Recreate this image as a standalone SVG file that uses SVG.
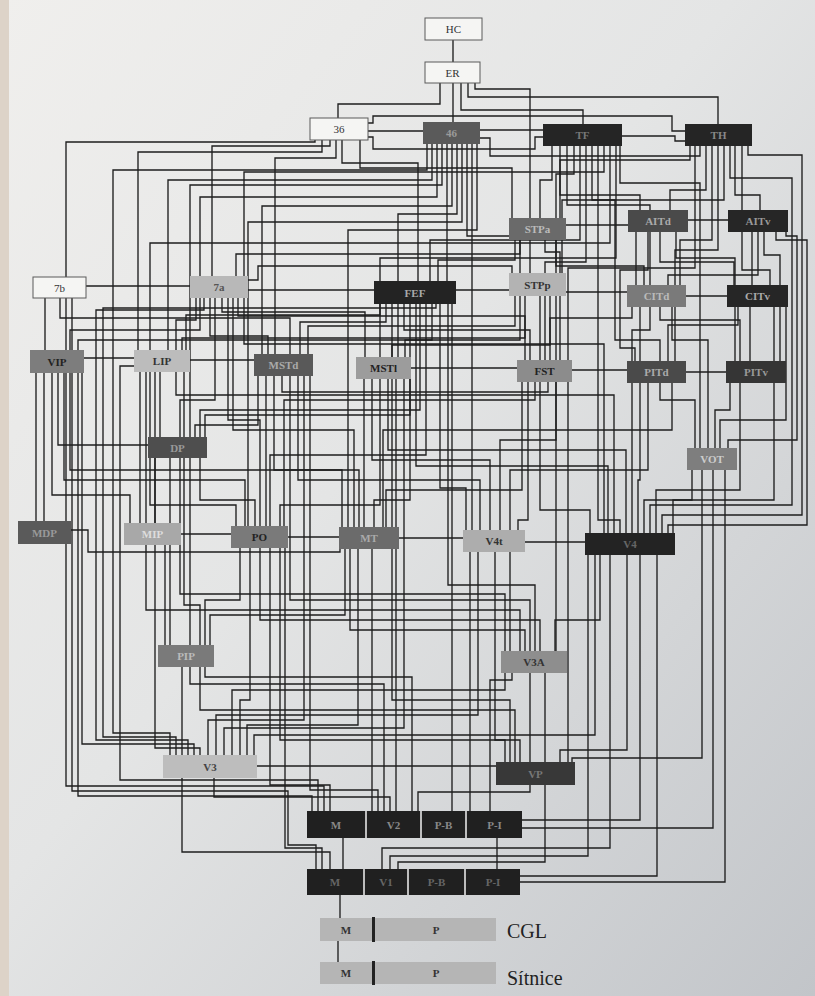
<svg xmlns="http://www.w3.org/2000/svg" width="815" height="996" viewBox="0 0 815 996">
<defs>
<linearGradient id="bg" x1="0" y1="0" x2="1" y2="1">
<stop offset="0" stop-color="#f0efed"/>
<stop offset="0.45" stop-color="#e4e5e5"/>
<stop offset="1" stop-color="#c2c5c9"/>
</linearGradient>
</defs>
<style>
.c path{fill:none;stroke:#1e1e1e;stroke-width:1.35}
.n text{font-family:"Liberation Serif","Times New Roman",serif;font-size:11px;font-weight:bold;text-anchor:middle}
.w rect{fill:#f5f5f3;stroke:#5a5a5a;stroke-width:1}
.w text{fill:#333;font-weight:normal}
.sep{stroke:#bdbdbd;stroke-width:2}
.n text.lbl{font-family:"Liberation Serif","Times New Roman",serif;font-size:20px;font-weight:normal;fill:#222;text-anchor:start}
</style>
<rect x="0" y="0" width="815" height="996" fill="url(#bg)"/>
<rect x="0" y="0" width="9" height="996" fill="#ddd3c8"/>

<g id="connectors" class="c">
<path d="M453,40V62"/>
<path d="M440,83V104H338V118"/>
<path d="M453,83V122"/>
<path d="M461,83V110H583V124"/>
<path d="M468,83V97H718V124"/>
<path d="M475,83V89H530V218"/>
<path d="M368,123H373V116H672V131H685"/>
<path d="M368,131H423"/>
<path d="M368,137H373V149H535V137H543"/>
<path d="M480,130H543"/>
<path d="M480,138H490V156H700V146"/>
<path d="M622,136H675V141H685"/>
<path d="M315,140V142H66V277"/>
<path d="M322,140V152H138V350"/>
<path d="M330,140V146H212V276"/>
<path d="M336,140V158H275V354"/>
<path d="M342,140V163H418V281"/>
<path d="M360,140V168H512V218"/>
<path d="M427,144V170H113V733H170V755"/>
<path d="M432,144V180H168V350"/>
<path d="M437,144V197H200V276"/>
<path d="M442,144V185H190V437"/>
<path d="M447,144V281"/>
<path d="M452,144V206H262V354"/>
<path d="M457,144V214H398V357"/>
<path d="M462,144V222H248V526"/>
<path d="M467,144V236H520V273"/>
<path d="M472,144V530"/>
<path d="M477,144V230H348V527"/>
<path d="M552,146V180H540V218"/>
<path d="M560,146V195H640V210"/>
<path d="M567,146V205H650V285"/>
<path d="M574,146V174H556V273"/>
<path d="M580,146V240H430V281"/>
<path d="M586,146V262H545V360"/>
<path d="M592,146V200H615V340H660V361"/>
<path d="M598,146V520H620V533"/>
<path d="M604,146V172H244V276"/>
<path d="M610,146V243H150V350"/>
<path d="M616,146V258H380V357"/>
<path d="M620,146V183H700V448"/>
<path d="M690,146V160H560V218"/>
<path d="M695,146V268H568V360"/>
<path d="M706,146V190H670V210"/>
<path d="M712,146V240H680V285"/>
<path d="M718,146V250H675V361"/>
<path d="M724,146V200H562V273"/>
<path d="M730,146V178H792V505H650V533"/>
<path d="M735,146V195H760V210"/>
<path d="M742,146V270H770V285"/>
<path d="M748,146V155H802V515H662V533"/>
<path d="M688,220H728"/>
<path d="M636,232V285"/>
<path d="M648,232V270H620V348H635V361"/>
<path d="M660,232V262H734V285"/>
<path d="M676,232V258H735V361"/>
<path d="M752,232V285"/>
<path d="M758,232V275H668V285"/>
<path d="M764,232V255H780V361"/>
<path d="M776,232V240H807V525H668V533"/>
<path d="M786,232V236H797V440H728V448"/>
<path d="M686,296H727"/>
<path d="M640,307V361"/>
<path d="M660,307V320H740V361"/>
<path d="M650,307V330H632V533"/>
<path d="M632,307V318H550V360"/>
<path d="M672,307V340H708V448"/>
<path d="M627,292H566"/>
<path d="M750,307V361"/>
<path d="M738,307V325H668V361"/>
<path d="M774,307V500H644V533"/>
<path d="M786,307V420H720V448"/>
<path d="M686,372H726"/>
<path d="M640,383V480H638V533"/>
<path d="M648,383V470H510V530"/>
<path d="M660,383V400H695V448"/>
<path d="M627,370H572"/>
<path d="M672,383V430H383V527"/>
<path d="M740,383V490H656V533"/>
<path d="M730,383V410H715V448"/>
<path d="M692,470V500H673V533"/>
<path d="M713,470V828H522"/>
<path d="M702,470V758H572V762"/>
<path d="M725,470V882H520"/>
<path d="M657,555V876H520"/>
<path d="M640,555V820H522"/>
<path d="M627,555V750H560V762"/>
<path d="M610,555V848H382V869"/>
<path d="M588,555V856H390V869"/>
<path d="M600,555V620H555V651"/>
<path d="M595,555V735H254V755"/>
<path d="M585,542H525"/>
<path d="M530,240V273"/>
<path d="M515,240V260H438V281"/>
<path d="M520,240V254H236V276"/>
<path d="M545,240V252H560V360"/>
<path d="M566,225H628"/>
<path d="M556,240V266H644V285"/>
<path d="M86,286H190"/>
<path d="M60,298V318H290V354"/>
<path d="M45,298V350"/>
<path d="M66,298V786H324V811"/>
<path d="M72,298V791H288V845H316V869"/>
<path d="M196,298V320H176V350"/>
<path d="M200,298V330H70V350"/>
<path d="M204,298V310H96V740H188V755"/>
<path d="M210,298V336H268V354"/>
<path d="M215,298V400H180V437"/>
<path d="M222,298V312H365V357"/>
<path d="M228,298V420H260V526"/>
<path d="M233,298V430H354V527"/>
<path d="M238,298V316H525V360"/>
<path d="M244,298V344H604V533"/>
<path d="M248,290H374"/>
<path d="M248,280H258V266H512V273"/>
<path d="M380,304V315H186V350"/>
<path d="M386,304V322H300V354"/>
<path d="M392,304V357"/>
<path d="M404,304V330H530V360"/>
<path d="M410,304V500H374V527"/>
<path d="M416,304V466H608V533"/>
<path d="M420,304V410H200V437"/>
<path d="M426,304V455H270V526"/>
<path d="M432,304V340H78V350"/>
<path d="M436,304V308H103V737H176V755"/>
<path d="M440,304V488H466V530"/>
<path d="M448,304V585H535V651"/>
<path d="M456,290H509"/>
<path d="M452,304V811"/>
<path d="M540,296V360"/>
<path d="M515,296V326H308V354"/>
<path d="M520,296V340H405V357"/>
<path d="M525,296V338H182V350"/>
<path d="M550,296V345H392V527"/>
<path d="M556,296V440H500V530"/>
<path d="M36,373V521"/>
<path d="M44,373V521"/>
<path d="M84,358H134"/>
<path d="M58,373V445H148"/>
<path d="M52,373V495H130V523"/>
<path d="M64,373V480H245V526"/>
<path d="M70,373V470H342V527"/>
<path d="M78,373V796H312V811"/>
<path d="M82,373V744H194V755"/>
<path d="M134,366H120V780H318V811"/>
<path d="M160,372V437"/>
<path d="M140,372V523"/>
<path d="M150,372V505H236V526"/>
<path d="M176,372V395H614V533"/>
<path d="M190,360H254"/>
<path d="M184,372V605H200V645"/>
<path d="M146,372V610H520V651"/>
<path d="M155,372V748H200V755"/>
<path d="M258,376V425H195V437"/>
<path d="M266,376V526"/>
<path d="M274,376V470H359V527"/>
<path d="M282,376V392H548V382"/>
<path d="M290,376V600H530V651"/>
<path d="M298,376V480H480V530"/>
<path d="M304,376V720H208V755"/>
<path d="M310,376V790H378V811"/>
<path d="M364,379V527"/>
<path d="M372,379V460H490V530"/>
<path d="M380,379V505H280V526"/>
<path d="M388,379V450H626V533"/>
<path d="M396,379V811"/>
<path d="M404,379V728H224V755"/>
<path d="M410,379V415H205V437"/>
<path d="M411,368H517"/>
<path d="M522,382V490H386V527"/>
<path d="M528,382V520H518V530"/>
<path d="M540,382V510H590V533"/>
<path d="M556,382V651"/>
<path d="M568,382V762"/>
<path d="M535,382V400H284V526"/>
<path d="M200,458V500H255V526"/>
<path d="M155,458V523"/>
<path d="M170,458V645"/>
<path d="M180,458V594H505V651"/>
<path d="M190,458V684H384V811"/>
<path d="M71,530H88V552H340V549"/>
<path d="M181,534H231"/>
<path d="M165,545V645"/>
<path d="M288,537H339"/>
<path d="M240,548V600H205V645"/>
<path d="M250,548V700H240V755"/>
<path d="M260,548V620H540V651"/>
<path d="M270,548V785H330V811"/>
<path d="M280,548V740H505V762"/>
<path d="M285,548V848H322V869"/>
<path d="M399,538H463"/>
<path d="M350,549V630H525V651"/>
<path d="M358,549V725H247V755"/>
<path d="M372,549V811"/>
<path d="M392,549V700H510V762"/>
<path d="M345,549V615H210V645"/>
<path d="M510,552V651"/>
<path d="M470,552V811"/>
<path d="M495,552V740H520V762"/>
<path d="M478,552V715H216V755"/>
<path d="M182,667V755"/>
<path d="M205,667V677H412V811"/>
<path d="M200,667V710H515V762"/>
<path d="M505,673V690H232V755"/>
<path d="M530,673V762"/>
<path d="M512,673V680H490V811"/>
<path d="M545,673V862H398V869"/>
<path d="M257,766H496"/>
<path d="M214,778V797H390V811"/>
<path d="M182,778V852H330V869"/>
<path d="M530,785V792H418V811"/>
<path d="M343,838V869"/>
<path d="M497,838V869"/>
<path d="M340,895V918"/>
<path d="M338,941V962"/>
</g>

<g id="n-HC" class="n w"><rect x="425" y="18" width="57" height="22"/><text x="453.5" y="33">HC</text></g>
<g id="n-ER" class="n w"><rect x="425" y="62" width="55" height="21"/><text x="452.5" y="76.5">ER</text></g>
<g id="n-36" class="n w"><rect x="310" y="118" width="58" height="22"/><text x="339" y="133">36</text></g>
<g id="n-7b" class="n w"><rect x="33" y="277" width="53" height="21"/><text x="59.5" y="291.5">7b</text></g>
<g id="n-46" class="n"><rect x="423" y="122" width="57" height="22" fill="#5a5a5a"/><text x="451.5" y="137" fill="#9a9a9a">46</text></g>
<g id="n-TF" class="n"><rect x="543" y="124" width="79" height="22" fill="#252525"/><text x="582.5" y="139" fill="#777">TF</text></g>
<g id="n-TH" class="n"><rect x="685" y="124" width="67" height="22" fill="#252525"/><text x="718.5" y="139" fill="#888">TH</text></g>
<g id="n-STPa" class="n"><rect x="509" y="218" width="57" height="22" fill="#6a6a6a"/><text x="537.5" y="233" fill="#bbb">STPa</text></g>
<g id="n-AITd" class="n"><rect x="628" y="210" width="60" height="22" fill="#4a4a4a"/><text x="658" y="225" fill="#aaa">AITd</text></g>
<g id="n-AITv" class="n"><rect x="728" y="210" width="60" height="22" fill="#262626"/><text x="758" y="225" fill="#999">AITv</text></g>
<g id="n-7a" class="n"><rect x="190" y="276" width="58" height="22" fill="#b8b8b8"/><text x="219" y="291" fill="#555">7a</text></g>
<g id="n-FEF" class="n"><rect x="374" y="281" width="82" height="23" fill="#232323"/><text x="415" y="296.5" fill="#aaa">FEF</text></g>
<g id="n-STPp" class="n"><rect x="509" y="273" width="57" height="23" fill="#b3b3b3"/><text x="537.5" y="288.5" fill="#333">STPp</text></g>
<g id="n-CITd" class="n"><rect x="627" y="285" width="59" height="22" fill="#7a7a7a"/><text x="656.5" y="300" fill="#bbb">CITd</text></g>
<g id="n-CITv" class="n"><rect x="727" y="285" width="61" height="22" fill="#262626"/><text x="757.5" y="300" fill="#aaa">CITv</text></g>
<g id="n-VIP" class="n"><rect x="30" y="350" width="54" height="23" fill="#7d7d7d"/><text x="57" y="365.5" fill="#222">VIP</text></g>
<g id="n-LIP" class="n"><rect x="134" y="350" width="56" height="22" fill="#bcbcbc"/><text x="162" y="365" fill="#333">LIP</text></g>
<g id="n-MSTd" class="n"><rect x="254" y="354" width="59" height="22" fill="#595959"/><text x="283.5" y="369" fill="#aaa">MSTd</text></g>
<g id="n-MSTl" class="n"><rect x="356" y="357" width="55" height="22" fill="#9c9c9c"/><text x="383.5" y="372" fill="#222">MSTl</text></g>
<g id="n-FST" class="n"><rect x="517" y="360" width="55" height="22" fill="#8c8c8c"/><text x="544.5" y="375" fill="#222">FST</text></g>
<g id="n-PITd" class="n"><rect x="627" y="361" width="59" height="22" fill="#4a4a4a"/><text x="656.5" y="376" fill="#aaa">PITd</text></g>
<g id="n-PITv" class="n"><rect x="726" y="361" width="60" height="22" fill="#353535"/><text x="756" y="376" fill="#999">PITv</text></g>
<g id="n-DP" class="n"><rect x="148" y="437" width="59" height="21" fill="#4e4e4e"/><text x="177.5" y="451.5" fill="#999">DP</text></g>
<g id="n-VOT" class="n"><rect x="687" y="448" width="50" height="22" fill="#7e7e7e"/><text x="712" y="463" fill="#ccc">VOT</text></g>
<g id="n-MDP" class="n"><rect x="18" y="521" width="53" height="23" fill="#5a5a5a"/><text x="44.5" y="536.5" fill="#999">MDP</text></g>
<g id="n-MIP" class="n"><rect x="124" y="523" width="57" height="22" fill="#a8a8a8"/><text x="152.5" y="538" fill="#ddd">MIP</text></g>
<g id="n-PO" class="n"><rect x="231" y="526" width="57" height="22" fill="#7a7a7a"/><text x="259.5" y="541" fill="#222">PO</text></g>
<g id="n-MT" class="n"><rect x="339" y="527" width="60" height="22" fill="#6b6b6b"/><text x="369" y="542" fill="#aaa">MT</text></g>
<g id="n-V4t" class="n"><rect x="463" y="530" width="62" height="22" fill="#adadad"/><text x="494" y="545" fill="#333">V4t</text></g>
<g id="n-V4" class="n"><rect x="585" y="533" width="90" height="22" fill="#232323"/><text x="630" y="548" fill="#666">V4</text></g>
<g id="n-PIP" class="n"><rect x="158" y="645" width="56" height="22" fill="#7a7a7a"/><text x="186" y="660" fill="#bbb">PIP</text></g>
<g id="n-V3A" class="n"><rect x="501" y="651" width="66" height="22" fill="#8e8e8e"/><text x="534" y="666" fill="#333">V3A</text></g>
<g id="n-V3" class="n"><rect x="163" y="755" width="94" height="23" fill="#bdbdbd"/><text x="210" y="770.5" fill="#444">V3</text></g>
<g id="n-VP" class="n"><rect x="496" y="762" width="79" height="23" fill="#383838"/><text x="535.5" y="777.5" fill="#777">VP</text></g>
<g id="n-V2" class="n">
<rect x="307" y="811" width="215" height="27" fill="#202020"/>
<line class="sep" x1="366" y1="811" x2="366" y2="838"/><line class="sep" x1="421" y1="811" x2="421" y2="838"/><line class="sep" x1="466" y1="811" x2="466" y2="838"/>
<text x="336" y="828.5" fill="#888">M</text><text x="393.5" y="828.5" fill="#888">V2</text><text x="443.5" y="828.5" fill="#888">P-B</text><text x="494.5" y="828.5" fill="#888">P-I</text>
</g>
<g id="n-V1" class="n">
<rect x="307" y="869" width="213" height="26" fill="#202020"/>
<line class="sep" x1="364" y1="869" x2="364" y2="895"/><line class="sep" x1="408" y1="869" x2="408" y2="895"/><line class="sep" x1="465" y1="869" x2="465" y2="895"/>
<text x="335" y="886" fill="#666">M</text><text x="386" y="886" fill="#666">V1</text><text x="436.5" y="886" fill="#666">P-B</text><text x="493" y="886" fill="#666">P-I</text>
</g>
<g id="n-CGL" class="n">
<rect x="320" y="918" width="176" height="23" fill="#b5b5b5"/>
<rect x="372" y="917" width="3" height="25" fill="#222"/>
<text x="346" y="933.5" fill="#333">M</text><text x="436" y="933.5" fill="#333">P</text>
<text class="lbl" x="507" y="938">CGL</text>
</g>
<g id="n-Sitnice" class="n">
<rect x="320" y="962" width="176" height="22" fill="#b5b5b5"/>
<rect x="372" y="961" width="3" height="24" fill="#222"/>
<text x="346" y="977" fill="#333">M</text><text x="436" y="977" fill="#333">P</text>
<text class="lbl" x="507" y="985">Sítnice</text>
</g>
</svg>
